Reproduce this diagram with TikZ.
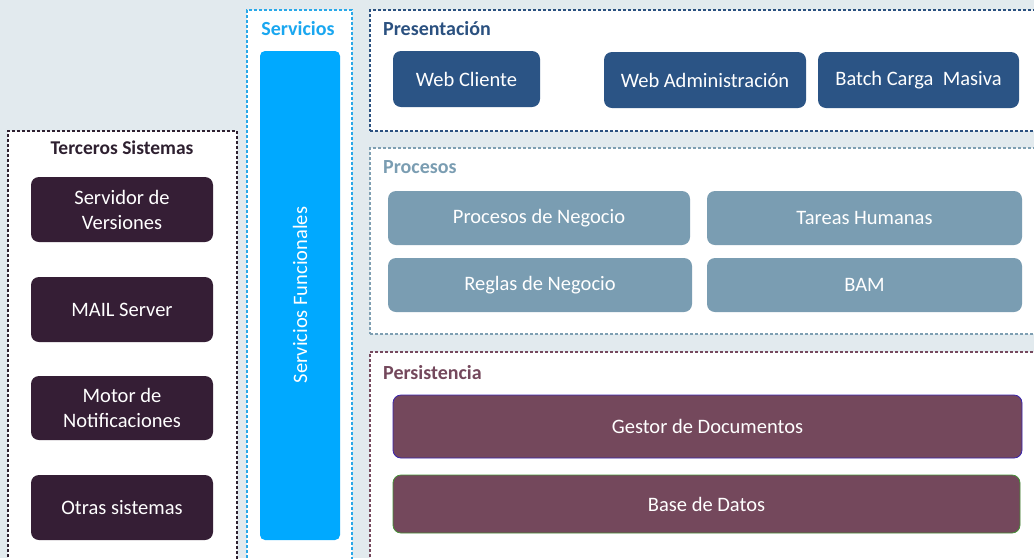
\documentclass[tikz,border=0pt]{standalone}
\usepackage{fontspec}
\setmainfont{Carlito}
\definecolor{bg}{HTML}{E2EAEE}
\definecolor{tercF}{HTML}{2E2030}
\definecolor{tercB}{HTML}{351E35}
\definecolor{servF}{HTML}{29A8E8}
\definecolor{servT}{HTML}{1AA7F0}
\definecolor{servB}{HTML}{00A9FF}
\definecolor{presF}{HTML}{2B5180}
\definecolor{presB}{HTML}{2B5485}
\definecolor{procF}{HTML}{7E9FB2}
\definecolor{procB}{HTML}{7A9DB2}
\definecolor{persF}{HTML}{76495E}
\definecolor{persB}{HTML}{74485C}
\tikzset{
  frame/.style={draw, fill=white, dash pattern=on 3pt off 2pt, line width=1.1pt, inner sep=0pt, outer sep=0pt},
  box/.style={rounded corners=8pt, inner sep=0pt, outer sep=0pt, text=white, font=\fontsize{20.5}{25}\selectfont, align=center},
  ttl/.style={font=\bfseries\fontsize{20}{24}\selectfont, inner sep=0pt},
}
\begin{document}
\begin{tikzpicture}[x=1pt,y=-1pt]
\clip (0,0) rectangle (1034,558);
\fill[bg] (0,0) rectangle (1034,558);
% frames
\node[frame, draw=tercF, minimum width=229pt, minimum height=439pt] (terc) at (122.5,350.5) {};
\node[frame, draw=servF, minimum width=105pt, minimum height=560pt] (serv) at (299.5,290) {};
\node[frame, draw=presF, minimum width=675pt, minimum height=121pt] (pres) at (707.5,70.5) {};
\node[frame, draw=procF, minimum width=675pt, minimum height=186pt] (proc) at (707.5,241) {};
\node[frame, draw=persF, minimum width=675pt, minimum height=218pt] (pers) at (707.5,461) {};
% titles
\node[ttl, text=tercF, font=\bfseries\fontsize{19.5}{24}\selectfont] (tercT) at (122,148) {Terceros Sistemas};
\node[ttl, text=servT] (servT) at (298,29) {Servicios};
\node[ttl, text=presF, anchor=west] (presT) at (383,29) {Presentación};
\node[ttl, text=procB, anchor=west] (procT) at (383,167) {Procesos};
\node[ttl, text=persB, anchor=west] (persT) at (383,373) {Persistencia};
% terceros
\node[box, fill=tercB, minimum width=182pt, minimum height=65pt] (sv) at (122,209.5) {Servidor de\\Versiones};
\node[box, fill=tercB, minimum width=182pt, minimum height=65pt] (mail) at (122,309.5) {MAIL Server};
\node[box, fill=tercB, minimum width=182pt, minimum height=64pt] (motor) at (122,408) {Motor de\\Notificaciones};
\node[box, fill=tercB, minimum width=182pt, minimum height=65pt] (otras) at (122,507.5) {Otras sistemas};
% servicios
\node[box, fill=servB, rounded corners=5pt, minimum width=80pt, minimum height=489pt] (bar) at (300,295.5) {};
\node[text=white, font=\fontsize{20.5}{25}\selectfont, rotate=90, inner sep=0pt] (barT) at (300,295) {Servicios Funcionales};
% presentacion
\node[box, fill=presB, minimum width=147pt, minimum height=56pt] (wc) at (466.5,79) {Web Cliente};
\node[box, fill=presB, minimum width=202pt, minimum height=56pt] (wa) at (705,80) {Web Administración};
\node[box, fill=presB, minimum width=201pt, minimum height=56pt] (bc) at (918.5,80) {Batch Carga\ \ Masiva};
% procesos
\node[box, fill=procB, minimum width=302pt, minimum height=54pt] (pn) at (539,218) {Procesos de Negocio};
\node[box, fill=procB, minimum width=315pt, minimum height=54pt] (th) at (864.5,218) {Tareas Humanas};
\node[box, fill=procB, minimum width=304pt, minimum height=54pt] (rn) at (540,285) {Reglas de Negocio};
\node[box, fill=procB, minimum width=315pt, minimum height=54pt] (bam) at (864.5,285) {BAM};
% persistencia
\node[box, fill=persB, draw=blue!50!persB, line width=0.8pt, minimum width=629pt, minimum height=63pt] (gd) at (707.5,426.5) {Gestor de Documentos};
\node[box, fill=persB, draw=green!40!persB, line width=0.8pt, minimum width=627pt, minimum height=58pt] (bd) at (706.5,504) {Base de Datos};
\end{tikzpicture}
\end{document}
